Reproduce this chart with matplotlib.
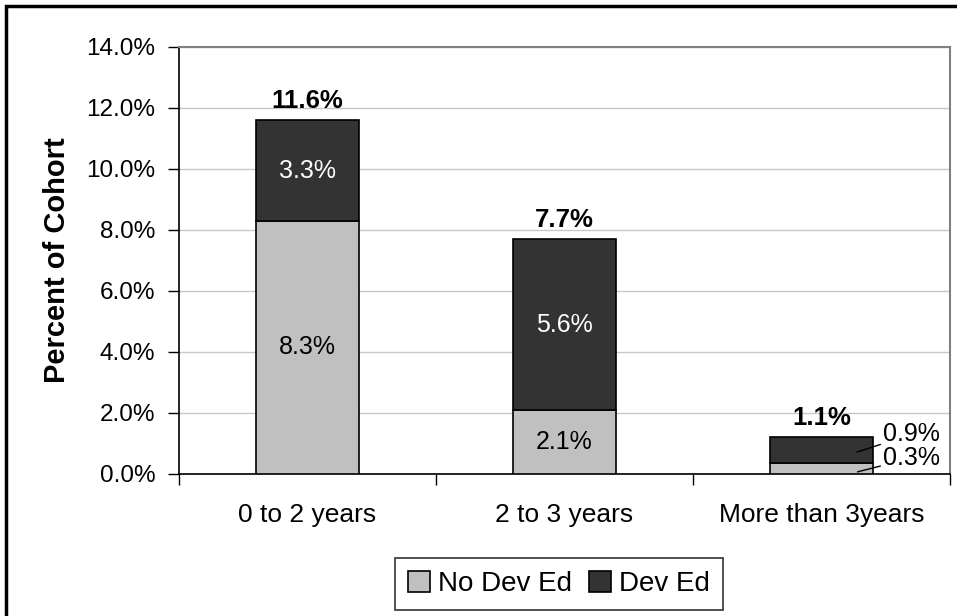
import matplotlib.pyplot as plt
from matplotlib.patches import Rectangle

plt.rcParams['font.family'] = ['Liberation Sans', 'DejaVu Sans']

categories = ["0 to 2 years", "2 to 3 years", "More than 3years"]
no_dev_ed = [8.3, 2.1, 0.35]
dev_ed = [3.3, 5.6, 0.85]
no_dev_labels = ["8.3%", "2.1%", "0.3%"]
dev_labels = ["3.3%", "5.6%", "0.9%"]
total_labels = ["11.6%", "7.7%", "1.1%"]
y_ticks = [0, 2, 4, 6, 8, 10, 12, 14]

fig = plt.figure(figsize=(9.57, 6.16), dpi=100)
ax = fig.add_axes([179 / 957, 1 - 474 / 616, (950 - 179) / 957, (474 - 47) / 616])

# outer chart border (only left and top visible in frame)
fig.add_artist(Rectangle((6 / 957, -0.1), 1.2, 1 - 6 / 616 + 0.1, transform=fig.transFigure,
                         fill=False, edgecolor='black', linewidth=2.5))

x = list(range(len(categories)))
w = 0.4
ax.bar(x, no_dev_ed, width=w, color='#C0C0C0', edgecolor='black', linewidth=1.2,
       label='No Dev Ed', zorder=3)
ax.bar(x, dev_ed, width=w, bottom=no_dev_ed, color='#333333', edgecolor='black',
       linewidth=1.2, label='Dev Ed', zorder=3)

fs = 18
for i in range(2):
    ax.text(x[i], no_dev_ed[i] / 2, no_dev_labels[i], ha='center', va='center',
            fontsize=fs, color='black', zorder=4)
    ax.text(x[i], no_dev_ed[i] + dev_ed[i] / 2, dev_labels[i], ha='center', va='center',
            fontsize=fs, color='white', zorder=4)

# small bar: labels outside with leader lines
i = 2
ax.annotate(dev_labels[i], xy=(x[i] + 0.138, 0.72),
            xytext=(x[i] + 0.24, 1.3),
            ha='left', va='center', fontsize=fs,
            arrowprops=dict(arrowstyle='-', color='black', lw=1, shrinkA=0, shrinkB=0),
            zorder=5)
ax.annotate(no_dev_labels[i], xy=(x[i] + 0.14, 0.07),
            xytext=(x[i] + 0.24, 0.52),
            ha='left', va='center', fontsize=fs,
            arrowprops=dict(arrowstyle='-', color='black', lw=1, shrinkA=0, shrinkB=0),
            zorder=5)

for i in range(len(categories)):
    ax.text(x[i], no_dev_ed[i] + dev_ed[i] + 0.25, total_labels[i], ha='center',
            va='bottom', fontsize=18.5, fontweight='bold')

ax.set_xlim(-0.5, 2.5)
ax.set_ylim(0, 14)
ax.set_yticks(y_ticks)
ax.set_yticklabels([f"{v:.1f}%" for v in y_ticks], fontsize=17.5)
ax.set_xticks(x)
ax.set_xticklabels(categories, fontsize=19)
ax.tick_params(axis='x', which='major', length=0, pad=21)
ax.set_xticks([-0.5, 0.5, 1.5, 2.5], minor=True)
ax.tick_params(axis='x', which='minor', length=8, width=1, direction='out')
ax.tick_params(axis='y', length=8, width=1, direction='out', pad=9)

ax.grid(axis='y', color='#C8C8C8', linewidth=1, zorder=0)
ax.set_axisbelow(True)
ax.spines['top'].set_color('#808080')
ax.spines['right'].set_color('#808080')
ax.spines['top'].set_linewidth(1.5)
ax.spines['right'].set_linewidth(1.5)
ax.spines['left'].set_linewidth(1.2)
ax.spines['bottom'].set_linewidth(1.2)

ax.set_ylabel("Percent of Cohort", fontsize=21, fontweight='bold', labelpad=11)

leg = fig.legend(loc='center', bbox_to_anchor=(559 / 957, 1 - 584 / 616), ncol=2,
                 fontsize=20, frameon=True, fancybox=False, handlelength=0.8,
                 handleheight=0.8, handletextpad=0.3, columnspacing=0.6,
                 borderpad=0.45)
leg.get_frame().set_edgecolor('black')
leg.get_frame().set_linewidth(1.2)

fig.savefig('out.png', dpi=100)
